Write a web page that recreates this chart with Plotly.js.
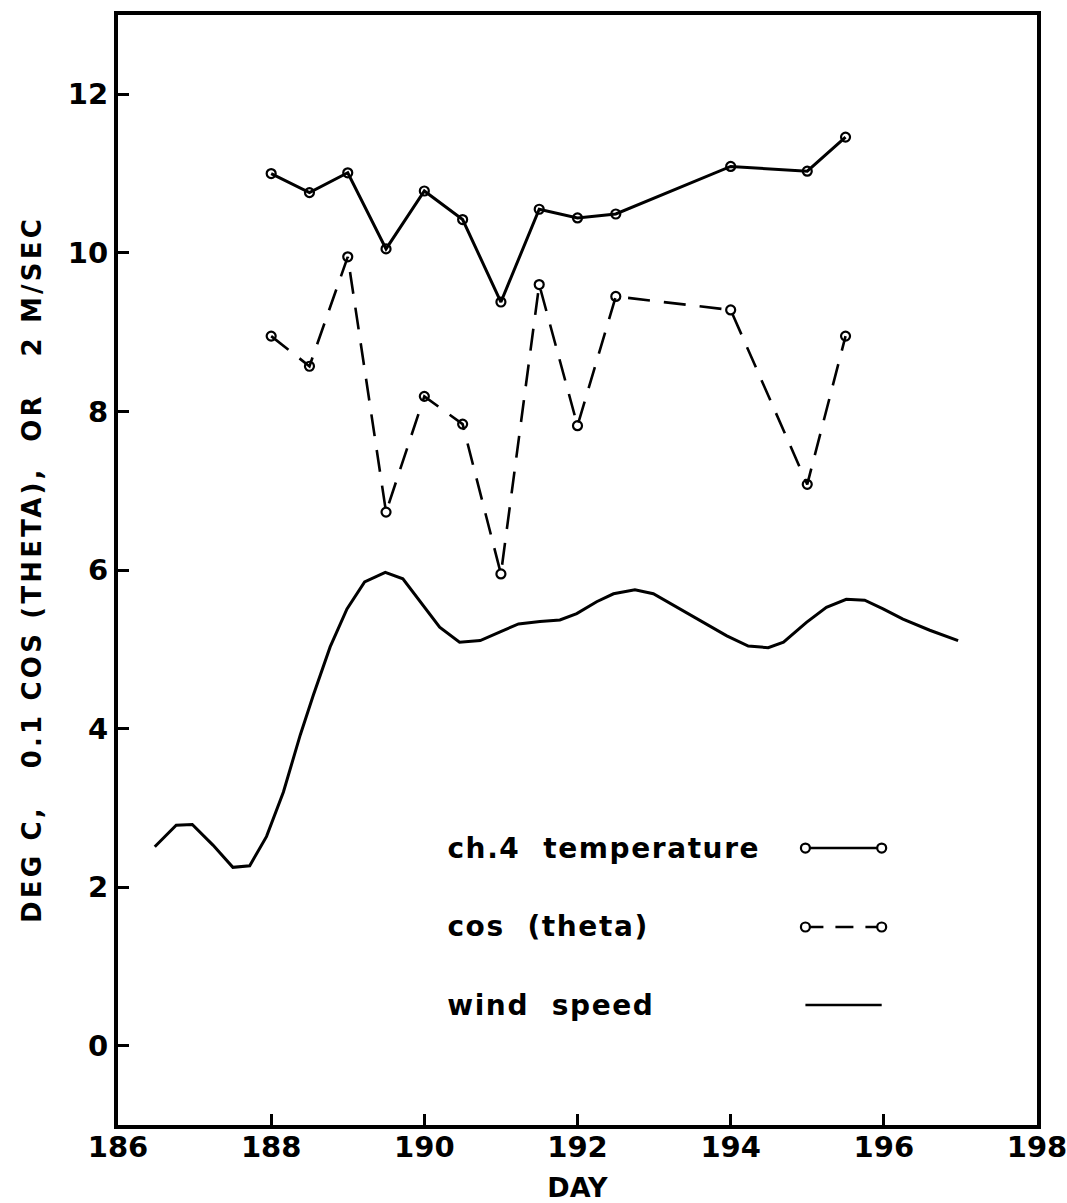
<!DOCTYPE html>
<html>
<head>
<meta charset="utf-8">
<script src="https://cdn.plot.ly/plotly-3.0.1.min.js"></script>
<style>
  html, body { margin: 0; padding: 0; background: #fff; }
  #chart { width: 1067px; height: 1203px; }
</style>
</head>
<body>
<div id="chart"></div>
<script>
// Channel 4 temperature (deg C) by day
const tempDays = [188, 188.5, 189, 189.5, 190, 190.5, 191, 191.5, 192, 192.5, 194, 195, 195.5];
const tempVals = [11.0, 10.76, 11.01, 10.05, 10.78, 10.42, 9.38, 10.55, 10.44, 10.49, 11.09, 11.03, 11.46];

// 0.1 cos(theta), plotted on the same scale
const cosDays = [188, 188.5, 189, 189.5, 190, 190.5, 191, 191.5, 192, 192.5, 194, 195, 195.5];
const cosVals = [8.95, 8.57, 9.95, 6.73, 8.19, 7.84, 5.95, 9.60, 7.82, 9.45, 9.28, 7.08, 8.95];

// Wind speed in units of 2 m/s
const windDays = [186.48, 186.76, 186.97, 187.24, 187.5, 187.72, 187.94, 188.16, 188.38, 188.55,
                  188.77, 188.99, 189.22, 189.49, 189.72, 189.96, 190.2, 190.46, 190.73, 190.99,
                  191.23, 191.51, 191.77, 191.99, 192.25, 192.47, 192.75, 192.99, 193.34, 193.69,
                  193.95, 194.23, 194.49, 194.69, 194.99, 195.25, 195.51, 195.75, 195.99, 196.25,
                  196.6, 196.97];
const windVals = [2.51, 2.78, 2.79, 2.53, 2.25, 2.27, 2.64, 3.2, 3.92, 4.42,
                  5.03, 5.51, 5.85, 5.97, 5.89, 5.59, 5.28, 5.09, 5.11, 5.22,
                  5.32, 5.35, 5.37, 5.45, 5.6, 5.70, 5.75, 5.70, 5.51, 5.31,
                  5.17, 5.04, 5.02, 5.09, 5.34, 5.53, 5.63, 5.62, 5.51, 5.38,
                  5.24, 5.11];

const xTicks = [186, 188, 190, 192, 194, 196, 198];
const yTicks = [0, 2, 4, 6, 8, 10, 12];

const legendLabels = ['ch.4\u00a0\u00a0temperature', 'cos\u00a0\u00a0(theta)', 'wind\u00a0\u00a0speed'];
const yTitle = 'DEG\u00a0C,\u00a0\u00a0\u00a00.1\u00a0COS\u00a0(THETA),\u00a0\u00a0OR\u00a0\u00a0\u00a02\u00a0M/SEC';

const FONT = 'DejaVu Sans, sans-serif';
const INK = '#000';
const KEY_SPACING = 1.6;   // px of extra letter spacing in the key
const TITLE_SPACING = 3.2; // px of extra letter spacing in the vertical label

const markerStyle = { symbol: 'circle-open', size: 9, color: INK, line: { width: 2.2, color: INK } };

const traces = [
  {
    x: tempDays, y: tempVals, type: 'scatter', mode: 'lines+markers',
    line: { color: INK, width: 3 }, marker: markerStyle, showlegend: false
  },
  {
    x: cosDays, y: cosVals, type: 'scatter', mode: 'lines+markers',
    line: { color: INK, width: 2.6, dash: '22px,14px' }, marker: markerStyle, showlegend: false
  },
  {
    x: windDays, y: windVals, type: 'scatter', mode: 'lines',
    line: { color: INK, width: 3 }, showlegend: false
  }
];

// Hand-built key: label on the left, line sample on the right
const keyY = [0.2495, 0.1784, 0.1081];
const keyTextX = 0.356;
const keyX0 = 0.748, keyX1 = 0.831;
const annotations = legendLabels.map((t, i) => ({
  xref: 'paper', yref: 'paper', x: keyTextX, y: keyY[i],
  // the extra letter spacing grows the text about its centre; keep the left edge fixed
  xshift: t.length * KEY_SPACING / 2,
  xanchor: 'left', yanchor: 'middle', showarrow: false,
  text: t, font: { family: FONT, size: 28, color: INK, weight: 'bold' }
}));
annotations.push({
  xref: 'paper', yref: 'paper', x: -0.094, y: 0.5,
  xanchor: 'center', yanchor: 'middle', showarrow: false, textangle: -90,
  text: yTitle,
  font: { family: FONT, size: 26, color: INK, weight: 'bold' }
});

const shapes = [];
const dashes = [null, '18px,12px', null];
legendLabels.forEach((t, i) => {
  shapes.push({
    type: 'line', xref: 'paper', yref: 'paper',
    x0: keyX0, x1: keyX1, y0: keyY[i], y1: keyY[i],
    line: { color: INK, width: 2.6, dash: dashes[i] || 'solid' }
  });
  if (i < 2) {
    [keyX0, keyX1].forEach(px => {
      shapes.push({
        type: 'circle', xref: 'paper', yref: 'paper', xsizemode: 'pixel', ysizemode: 'pixel',
        xanchor: px, yanchor: keyY[i], x0: -4.5, x1: 4.5, y0: -4.5, y1: 4.5,
        line: { color: INK, width: 2.2 }, fillcolor: '#fff'
      });
    });
  }
});

const layout = {
  width: 1067, height: 1203,
  margin: { l: 118, r: 30, t: 15, b: 78 },
  paper_bgcolor: '#fff', plot_bgcolor: '#fff',
  font: { family: FONT, color: INK },
  showlegend: false,
  xaxis: {
    range: [186, 198], tickvals: xTicks, ticktext: xTicks.map(String),
    ticks: 'inside', ticklen: 11, tickwidth: 3, tickcolor: INK,
    showline: true, linewidth: 4, linecolor: INK, mirror: true,
    showgrid: false, zeroline: false, ticklabeloverflow: 'allow',
    ticklabelstandoff: -7,
    tickfont: { family: FONT, size: 29, color: INK, weight: 'bold' },
    title: { text: 'DAY', standoff: 22, font: { family: FONT, size: 27, color: INK, weight: 'bold' } }
  },
  yaxis: {
    range: [-1, 13], tickvals: yTicks, ticktext: yTicks.map(String),
    ticks: 'inside', ticklen: 11, tickwidth: 3, tickcolor: INK,
    showline: true, linewidth: 4, linecolor: INK, mirror: true,
    showgrid: false, zeroline: false,
    tickfont: { family: FONT, size: 29, color: INK, weight: 'bold' }
  },
  annotations: annotations,
  shapes: shapes
};

Plotly.newPlot('chart', traces, layout, { staticPlot: true, displayModeBar: false }).then(gd => {
  // widen the lettering of the key and the vertical axis label
  gd.querySelectorAll('.annotation-text').forEach((el, i) => {
    el.style.letterSpacing = (i < legendLabels.length ? KEY_SPACING : TITLE_SPACING) + 'px';
  });
});
</script>
</body>
</html>
